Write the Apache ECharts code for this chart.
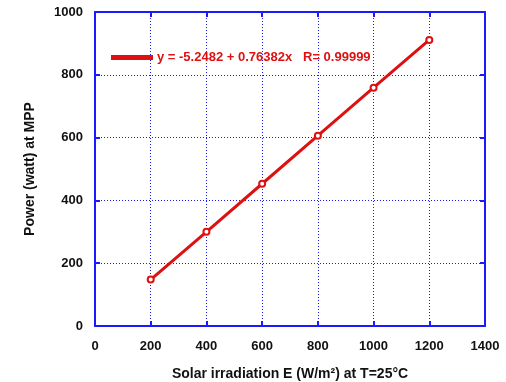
<!DOCTYPE html>
<html>
<head>
<meta charset="utf-8">
<script src="https://cdn.jsdelivr.net/npm/echarts@6/dist/echarts.min.js"></script>
<style>
  html, body { margin: 0; padding: 0; background: #fff; }
  #main { width: 506px; height: 382px; }
</style>
</head>
<body>
<div id="main"></div>
<script>
// irradiation (W/m2) vs power at MPP
const irradiation = [200, 400, 600, 800, 1000, 1200];
const power = [148, 300, 453, 606, 759, 911];
const fitLabel = 'y = -5.2482 + 0.76382x   R= 0.99999';

const blue = '#1a1aff';
const red = '#dd1111';
const font = 'Liberation Sans, Arial, sans-serif';

const chart = echarts.init(document.getElementById('main'));

const data = irradiation.map((x, i) => [x, power[i]]);

function axisCommon(withLabels, margin) {
    return {
        type: 'value',
        axisLine: { show: true, onZero: false, lineStyle: { color: blue, width: 2 } },
        axisTick: { show: true, inside: true, length: 5, lineStyle: { color: blue, width: 2 } },
        splitLine: { show: withLabels, lineStyle: { color: blue, type: [1, 2], width: 1 } },
        axisLabel: {
            show: withLabels, color: '#111', fontFamily: font, fontWeight: 'bold', fontSize: 13,
            margin: margin, formatter: v => String(v)
        },
        nameTextStyle: { color: '#111', fontFamily: font, fontWeight: 'bold', fontSize: 14 }
    };
}

const option = {
    animation: false,
    grid: { left: 95, right: 21, top: 12, bottom: 56, outerBoundsMode: 'none' },
    legend: {
        left: 106,
        top: 46,
        itemWidth: 40,
        itemHeight: 3,
        itemGap: 1,
        icon: 'rect',
        textStyle: { color: red, fontFamily: font, fontWeight: 'bold', fontSize: 13 },
        data: [fitLabel]
    },
    xAxis: [
        Object.assign(axisCommon(true, 14), {
            min: 0, max: 1400, interval: 200,
            name: 'Solar irradiation E (W/m²) at T=25°C',
            nameLocation: 'middle', nameGap: 41
        }),
        Object.assign(axisCommon(false, 14), {
            min: 0, max: 1400, interval: 200, position: 'top'
        })
    ],
    yAxis: [
        Object.assign(axisCommon(true, 12), {
            min: 0, max: 1000, interval: 200,
            name: 'Power (watt) at MPP',
            nameLocation: 'middle', nameGap: 58
        }),
        Object.assign(axisCommon(false, 12), {
            min: 0, max: 1000, interval: 200, position: 'right'
        })
    ],
    series: [{
        name: fitLabel,
        type: 'line',
        data: data,
        symbol: 'emptyCircle',
        symbolSize: 6,
        z: 5,
        itemStyle: { color: red, borderColor: red, borderWidth: 1 },
        lineStyle: { color: red, width: 3 }
    }, {
        // invisible copy so top/right frame axes are drawn
        type: 'line',
        data: data,
        xAxisIndex: 1,
        yAxisIndex: 1,
        silent: true,
        symbol: 'none',
        lineStyle: { opacity: 0 }
    }]
};

chart.setOption(option);
</script>
</body>
</html>
